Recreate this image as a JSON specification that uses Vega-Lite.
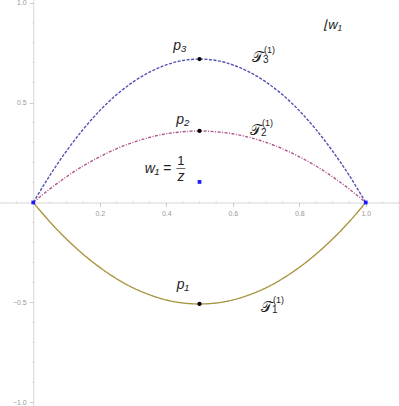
{
  "$schema": "https://vega.github.io/schema/vega-lite/v6.json",
  "width": 399,
  "height": 406,
  "autosize": "none",
  "padding": 0,
  "background": "white",
  "view": {"stroke": null},
  "config": {"font": "Liberation Sans"},
  "datasets": {
    "curves": [
      {"curve": "T1", "x": 0, "y": 0}, {"curve": "T1", "x": 0.05, "y": -0.097}, {"curve": "T1", "x": 0.1, "y": -0.183}, {"curve": "T1", "x": 0.15, "y": -0.259}, {"curve": "T1", "x": 0.2, "y": -0.325}, {"curve": "T1", "x": 0.25, "y": -0.381}, {"curve": "T1", "x": 0.3, "y": -0.427}, {"curve": "T1", "x": 0.35, "y": -0.462}, {"curve": "T1", "x": 0.4, "y": -0.488}, {"curve": "T1", "x": 0.45, "y": -0.503}, {"curve": "T1", "x": 0.5, "y": -0.508}, {"curve": "T1", "x": 0.55, "y": -0.503}, {"curve": "T1", "x": 0.6, "y": -0.488}, {"curve": "T1", "x": 0.65, "y": -0.462}, {"curve": "T1", "x": 0.7, "y": -0.427}, {"curve": "T1", "x": 0.75, "y": -0.381}, {"curve": "T1", "x": 0.8, "y": -0.325}, {"curve": "T1", "x": 0.85, "y": -0.259}, {"curve": "T1", "x": 0.9, "y": -0.183}, {"curve": "T1", "x": 0.95, "y": -0.097}, {"curve": "T1", "x": 1, "y": 0},
      {"curve": "T2", "x": 0, "y": 0}, {"curve": "T2", "x": 0.05, "y": 0.068}, {"curve": "T2", "x": 0.1, "y": 0.129}, {"curve": "T2", "x": 0.15, "y": 0.183}, {"curve": "T2", "x": 0.2, "y": 0.229}, {"curve": "T2", "x": 0.25, "y": 0.269}, {"curve": "T2", "x": 0.3, "y": 0.301}, {"curve": "T2", "x": 0.35, "y": 0.326}, {"curve": "T2", "x": 0.4, "y": 0.344}, {"curve": "T2", "x": 0.45, "y": 0.354}, {"curve": "T2", "x": 0.5, "y": 0.358}, {"curve": "T2", "x": 0.55, "y": 0.354}, {"curve": "T2", "x": 0.6, "y": 0.344}, {"curve": "T2", "x": 0.65, "y": 0.326}, {"curve": "T2", "x": 0.7, "y": 0.301}, {"curve": "T2", "x": 0.75, "y": 0.269}, {"curve": "T2", "x": 0.8, "y": 0.229}, {"curve": "T2", "x": 0.85, "y": 0.183}, {"curve": "T2", "x": 0.9, "y": 0.129}, {"curve": "T2", "x": 0.95, "y": 0.068}, {"curve": "T2", "x": 1, "y": 0},
      {"curve": "T3", "x": 0, "y": 0}, {"curve": "T3", "x": 0.05, "y": 0.136}, {"curve": "T3", "x": 0.1, "y": 0.258}, {"curve": "T3", "x": 0.15, "y": 0.366}, {"curve": "T3", "x": 0.2, "y": 0.46}, {"curve": "T3", "x": 0.25, "y": 0.539}, {"curve": "T3", "x": 0.3, "y": 0.603}, {"curve": "T3", "x": 0.35, "y": 0.653}, {"curve": "T3", "x": 0.4, "y": 0.689}, {"curve": "T3", "x": 0.45, "y": 0.711}, {"curve": "T3", "x": 0.5, "y": 0.718}, {"curve": "T3", "x": 0.55, "y": 0.711}, {"curve": "T3", "x": 0.6, "y": 0.689}, {"curve": "T3", "x": 0.65, "y": 0.653}, {"curve": "T3", "x": 0.7, "y": 0.603}, {"curve": "T3", "x": 0.75, "y": 0.539}, {"curve": "T3", "x": 0.8, "y": 0.46}, {"curve": "T3", "x": 0.85, "y": 0.366}, {"curve": "T3", "x": 0.9, "y": 0.258}, {"curve": "T3", "x": 0.95, "y": 0.136}, {"curve": "T3", "x": 1, "y": 0}
    ],
    "xminor": [
      {"x": -0.1}, {"x": -0.05}, {"x": 0.05}, {"x": 0.1}, {"x": 0.15}, {"x": 0.25}, {"x": 0.3}, {"x": 0.35}, {"x": 0.45}, {"x": 0.5}, {"x": 0.55}, {"x": 0.65}, {"x": 0.7}, {"x": 0.75}, {"x": 0.85}, {"x": 0.9}, {"x": 0.95}, {"x": 1.05}, {"x": 1.1}
    ],
    "yminor": [
      {"y": -0.9}, {"y": -0.8}, {"y": -0.7}, {"y": -0.6}, {"y": -0.4}, {"y": -0.3}, {"y": -0.2}, {"y": -0.1}, {"y": 0.1}, {"y": 0.2}, {"y": 0.3}, {"y": 0.4}, {"y": 0.6}, {"y": 0.7}, {"y": 0.8}, {"y": 0.9}
    ],
    "peaks": [
      {"name": "p1", "x": 0.5, "y": -0.508},
      {"name": "p2", "x": 0.5, "y": 0.358},
      {"name": "p3", "x": 0.5, "y": 0.718}
    ],
    "bluepts": [
      {"x": 0, "y": 0}, {"x": 1, "y": 0}, {"x": 0.5, "y": 0.103}
    ],
    "plabels": [
      {"text": "p₃", "x": 0.441, "y": 0.783},
      {"text": "p₂", "x": 0.45, "y": 0.413},
      {"text": "p₁", "x": 0.45, "y": -0.413}
    ],
    "tlabels": [
      {"main": "𝒯", "sup": "(1)", "sub": "3", "x": 0.673, "y": 0.728},
      {"main": "𝒯", "sup": "(1)", "sub": "2", "x": 0.667, "y": 0.363},
      {"main": "𝒯", "sup": "(1)", "sub": "1", "x": 0.70, "y": -0.523}
    ],
    "eq": [
      {"text": "w₁ =", "x": 0.375, "y": 0.17}
    ],
    "frac": [
      {"num": "1", "den": "z", "x": 0.444, "y": 0.17}
    ],
    "corner": [
      {"text": "⌊w₁", "x": 0.9, "y": 0.889}
    ]
  },
  "layer": [
    {
      "data": {"name": "xminor"},
      "mark": {"type": "tick", "orient": "vertical", "size": 3, "thickness": 0.7, "color": "#cccccc"},
      "encoding": {
        "x": {"field": "x", "type": "quantitative", "scale": {"domain": [-0.1, 1.1], "nice": false, "zero": false},
          "axis": {"orient": "bottom", "offset": -203.5, "values": [0.2, 0.4, 0.6, 0.8, 1.0], "format": ".1f", "labelFontSize": 7, "labelColor": "#999999", "domainColor": "#cccccc", "domainWidth": 0.8, "tickColor": "#cccccc", "tickSize": 4, "labelPadding": 3, "grid": false, "title": null, "labelFlush": false}},
        "y": {"datum": 0, "type": "quantitative", "scale": {"domain": [-1.0188, 1.0138], "nice": false, "zero": false},
          "axis": {"orient": "left", "offset": -33.25, "values": [-1, -0.5, 0.5, 1], "format": ".1f", "labelFontSize": 7, "labelColor": "#999999", "domainColor": "#cccccc", "domainWidth": 0.8, "tickColor": "#cccccc", "tickSize": 4, "labelPadding": 3, "grid": false, "title": null, "labelFlush": false}}
      }
    },
    {
      "data": {"name": "yminor"},
      "mark": {"type": "tick", "orient": "horizontal", "size": 3, "thickness": 0.7, "color": "#cccccc"},
      "encoding": {
        "x": {"datum": 0, "type": "quantitative"},
        "y": {"field": "y", "type": "quantitative"}
      }
    },
    {
      "data": {"name": "curves"},
      "mark": {"type": "line", "interpolate": "natural", "strokeWidth": 1.4},
      "encoding": {
        "x": {"field": "x", "type": "quantitative"},
        "y": {"field": "y", "type": "quantitative"},
        "detail": {"field": "curve"},
        "color": {"field": "curve", "type": "nominal", "scale": {"domain": ["T1", "T2", "T3"], "range": ["#a89540", "#b0558a", "#5252b5"]}, "legend": null},
        "strokeDash": {"field": "curve", "type": "nominal", "scale": {"domain": ["T1", "T2", "T3"], "range": [[1, 0], [3, 1.5, 1, 1.5], [3, 1.5]]}, "legend": null}
      }
    },
    {
      "data": {"name": "bluepts"},
      "mark": {"type": "square", "size": 14, "color": "#1a1aff", "opacity": 1},
      "encoding": {
        "x": {"field": "x", "type": "quantitative"},
        "y": {"field": "y", "type": "quantitative"}
      }
    },
    {
      "data": {"name": "peaks"},
      "mark": {"type": "circle", "size": 18, "color": "black", "opacity": 1},
      "encoding": {
        "x": {"field": "x", "type": "quantitative"},
        "y": {"field": "y", "type": "quantitative"}
      }
    },
    {
      "data": {"name": "plabels"},
      "mark": {"type": "text", "fontSize": 14, "fontStyle": "italic", "color": "#222222", "align": "center", "baseline": "middle"},
      "encoding": {
        "x": {"field": "x", "type": "quantitative"},
        "y": {"field": "y", "type": "quantitative"},
        "text": {"field": "text"}
      }
    },
    {
      "data": {"name": "tlabels"},
      "mark": {"type": "text", "fontSize": 15, "color": "#222222", "align": "center", "baseline": "middle"},
      "encoding": {
        "x": {"field": "x", "type": "quantitative"},
        "y": {"field": "y", "type": "quantitative"},
        "text": {"field": "main"}
      }
    },
    {
      "data": {"name": "tlabels"},
      "mark": {"type": "text", "fontSize": 9, "color": "#222222", "align": "left", "baseline": "middle", "dx": 7, "dy": -7},
      "encoding": {
        "x": {"field": "x", "type": "quantitative"},
        "y": {"field": "y", "type": "quantitative"},
        "text": {"field": "sup"}
      }
    },
    {
      "data": {"name": "tlabels"},
      "mark": {"type": "text", "fontSize": 10, "color": "#222222", "align": "left", "baseline": "middle", "dx": 6, "dy": 3},
      "encoding": {
        "x": {"field": "x", "type": "quantitative"},
        "y": {"field": "y", "type": "quantitative"},
        "text": {"field": "sub"}
      }
    },
    {
      "data": {"name": "eq"},
      "mark": {"type": "text", "fontSize": 14, "fontStyle": "italic", "color": "#222222", "align": "center", "baseline": "middle"},
      "encoding": {
        "x": {"field": "x", "type": "quantitative"},
        "y": {"field": "y", "type": "quantitative"},
        "text": {"field": "text"}
      }
    },
    {
      "data": {"name": "frac"},
      "mark": {"type": "tick", "orient": "horizontal", "size": 9, "thickness": 1, "color": "#222222"},
      "encoding": {
        "x": {"field": "x", "type": "quantitative"},
        "y": {"field": "y", "type": "quantitative"}
      }
    },
    {
      "data": {"name": "frac"},
      "mark": {"type": "text", "fontSize": 13, "color": "#222222", "align": "center", "baseline": "bottom", "dy": -1},
      "encoding": {
        "x": {"field": "x", "type": "quantitative"},
        "y": {"field": "y", "type": "quantitative"},
        "text": {"field": "num"}
      }
    },
    {
      "data": {"name": "frac"},
      "mark": {"type": "text", "fontSize": 14, "fontStyle": "italic", "color": "#222222", "align": "center", "baseline": "top", "dy": 1},
      "encoding": {
        "x": {"field": "x", "type": "quantitative"},
        "y": {"field": "y", "type": "quantitative"},
        "text": {"field": "den"}
      }
    },
    {
      "data": {"name": "corner"},
      "mark": {"type": "text", "fontSize": 13, "fontStyle": "italic", "color": "#222222", "align": "center", "baseline": "middle"},
      "encoding": {
        "x": {"field": "x", "type": "quantitative"},
        "y": {"field": "y", "type": "quantitative"},
        "text": {"field": "text"}
      }
    }
  ]
}
